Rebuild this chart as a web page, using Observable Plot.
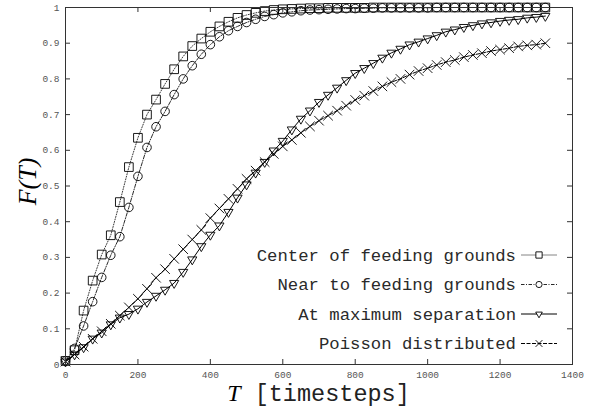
<!DOCTYPE html>
<html><head><meta charset="utf-8">
<script src="https://cdn.jsdelivr.net/npm/d3@7"></script>
<script src="https://cdn.jsdelivr.net/npm/@observablehq/plot@0.6"></script>
<style>body{margin:0;background:#fff}#chart{width:592px;height:411px}</style>
</head><body><div id="chart"></div>
<script>
const timesteps = [0,25,50,75,100,125,150,175,200,225,250,275,300,325,350,375,400,425,450,475,500,525,550,575,600,625,650,675,700,725,750,775,800,825,850,875,900,925,950,975,1000,1025,1050,1075,1100,1125,1150,1175,1200,1225,1250,1275,1300,1325];
const seriesNames = ["Center of feeding grounds","Near to feeding grounds","At maximum separation","Poisson distributed"];
const centerVals = [0.01,0.04,0.151,0.235,0.308,0.362,0.455,0.553,0.635,0.70,0.742,0.786,0.827,0.863,0.892,0.913,0.932,0.947,0.96,0.971,0.979,0.985,0.99,0.993,0.995,0.996,0.997,0.998,0.998,0.999,0.999,0.999,0.999,0.999,1,1,1,1,1,1,1,1,1,1,1,1,1,1,1,1,1,1,1,1];
const nearVals = [0.01,0.045,0.108,0.176,0.244,0.306,0.358,0.44,0.527,0.608,0.666,0.709,0.756,0.80,0.837,0.869,0.896,0.918,0.935,0.947,0.958,0.967,0.975,0.98,0.985,0.988,0.991,0.993,0.994,0.995,0.996,0.997,0.997,0.998,0.998,0.999,0.999,0.999,0.999,0.999,0.999,1,1,1,1,1,1,1,1,1,1,1,1,1];
const maxSepVals = [0.008,0.028,0.048,0.072,0.089,0.112,0.131,0.141,0.156,0.175,0.192,0.209,0.228,0.259,0.294,0.331,0.363,0.389,0.427,0.467,0.504,0.537,0.567,0.599,0.626,0.658,0.688,0.711,0.735,0.755,0.775,0.796,0.816,0.83,0.844,0.859,0.873,0.884,0.896,0.904,0.913,0.922,0.932,0.938,0.945,0.95,0.955,0.958,0.962,0.965,0.967,0.971,0.973,0.976];
const poissonVals = [0.008,0.028,0.05,0.072,0.093,0.114,0.137,0.16,0.184,0.212,0.243,0.267,0.296,0.323,0.35,0.377,0.41,0.437,0.464,0.492,0.52,0.543,0.567,0.59,0.611,0.629,0.649,0.667,0.683,0.697,0.711,0.725,0.741,0.753,0.766,0.779,0.791,0.80,0.812,0.822,0.83,0.839,0.847,0.853,0.861,0.867,0.872,0.878,0.882,0.886,0.891,0.894,0.896,0.9];
const xTicks = [0,200,400,600,800,1000,1200,1400];
const yTicks = [0,0.1,0.2,0.3,0.4,0.5,0.6,0.7,0.8,0.9,1];

const triangleDown = {draw(ctx, size){const y=-Math.sqrt(size/(Math.sqrt(3)*3)); ctx.moveTo(0,-2*y); ctx.lineTo(-Math.sqrt(3)*y,y); ctx.lineTo(Math.sqrt(3)*y,y); ctx.closePath();}};

const styles = [
  {vals: centerVals, symbol: "square", r: 4.9, dash: "1,1.6", stroke: "#222", lw: 0.9},
  {vals: nearVals, symbol: "circle", r: 4.3, dash: "3.5,1.5,1,1.5", stroke: "#111", lw: 0.9},
  {vals: maxSepVals, symbol: triangleDown, r: 3.4, dash: null, stroke: "#000", lw: 1},
  {vals: poissonVals, symbol: "times", r: 4.4, dash: "4,1.5", stroke: "#000", lw: 1}
];

const W = 592, H = 411, mL = 65, mR = 20, mT = 7, mB = 47;
const pw = W - mL - mR, ph = H - mT - mB;
const mono = "'Liberation Mono', 'DejaVu Sans Mono', monospace";
const serif = "'Liberation Serif', 'DejaVu Serif', serif";

const marks = [];
styles.forEach((s, i) => {
  const data = timesteps.map((t, j) => ({t, v: s.vals[j]}));
  marks.push(Plot.line(data, {x: "t", y: "v", stroke: s.stroke, strokeWidth: s.lw, strokeDasharray: s.dash}));
  marks.push(Plot.dot(data, {x: "t", y: "v", symbol: s.symbol, r: s.r, stroke: "#000", strokeWidth: 0.9, fill: "none"}));
});

const chart = Plot.plot({
  width: W, height: H,
  marginLeft: mL, marginRight: mR, marginTop: mT, marginBottom: mB,
  style: {background: "#fff"},
  x: {domain: [0, 1400]},
  y: {domain: [0, 1]},
  marks: [
    ...marks,
    Plot.tickX(xTicks, {x: d => d, insetTop: ph - 5, stroke: "#333"}),
    Plot.tickX(xTicks, {x: d => d, insetBottom: ph - 5, stroke: "#333"}),
    Plot.tickY(yTicks, {y: d => d, insetRight: pw - 5, stroke: "#333"}),
    Plot.tickY(yTicks, {y: d => d, insetLeft: pw - 5, stroke: "#333"}),
    Plot.frame({stroke: "#333", strokeWidth: 1}),
    Plot.axisX({ticks: xTicks, tickSize: 0, tickPadding: 7, label: null, fontFamily: mono, fontSize: 9.5, fill: "#555", tickFormat: d => String(d)}),
    Plot.axisY({ticks: yTicks, tickSize: 0, tickPadding: 6, label: null, fontFamily: mono, fontSize: 9.5, fill: "#555", tickFormat: d => String(d)})
  ]
});

const svg = d3.select(chart);
const xl = svg.append("text").attr("x", mL + pw / 2).attr("y", 401).attr("text-anchor", "middle").attr("fill", "#222");
xl.append("tspan").attr("font-family", serif).attr("font-style", "italic").attr("font-size", 24).attr("fill", "#000").text("T");
xl.append("tspan").attr("font-family", mono).attr("font-size", 23.5).text(" [timesteps]");
const yl = svg.append("text").attr("transform", `translate(36,${mT + ph / 2 - 4}) rotate(-90)`).attr("text-anchor", "middle").attr("fill", "#000")
  .attr("font-family", serif).attr("font-style", "italic").attr("font-size", 26);
yl.append("tspan").text("F(");
yl.append("tspan").text("T");
yl.append("tspan").text(")");

const legY = [255, 284.5, 314, 343.5];
const symMap = {square: d3.symbolSquare, circle: d3.symbolCircle, times: d3.symbolTimes};
const leg = svg.append("g");
styles.forEach((s, i) => {
  const y = legY[i];
  leg.append("text").attr("x", 516).attr("y", y).attr("dy", "0.33em").attr("text-anchor", "end")
    .attr("font-family", mono).attr("font-size", 17.3).attr("fill", "#2a2a2a").text(seriesNames[i]);
  leg.append("line").attr("x1", 521).attr("x2", 557).attr("y1", y).attr("y2", y)
    .attr("stroke", i === 0 ? "#777" : s.stroke).attr("stroke-width", s.lw).attr("stroke-dasharray", i === 0 ? null : s.dash);
  const sym = typeof s.symbol === "string" ? symMap[s.symbol] : s.symbol;
  const rr = s.r * 0.72;
  leg.append("path").attr("transform", `translate(539,${y})`).attr("d", d3.symbol(sym, rr * rr * Math.PI)())
    .attr("fill", "#fff").attr("stroke", "#000").attr("stroke-width", 0.9);
});

document.getElementById("chart").appendChild(chart);
</script></body></html>
